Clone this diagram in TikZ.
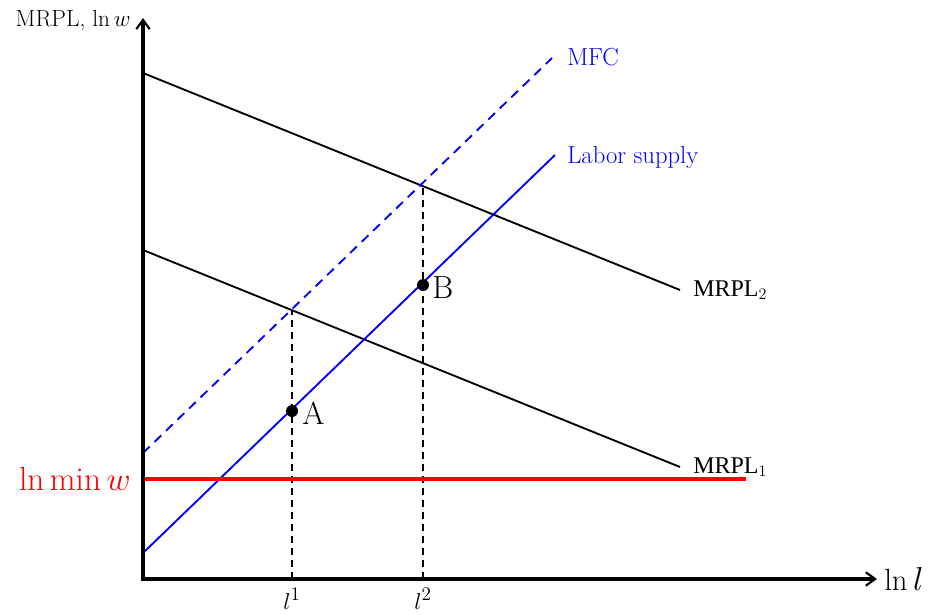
\documentclass[tikz,border=0pt]{standalone}
\usepackage{fontspec}
\newfontfamily\tms{Liberation Serif}
\usetikzlibrary{arrows.meta}
\begin{document}
\begin{tikzpicture}[x=0.75pt,y=-0.75pt,
  axis/.style={line width=2.4pt,-{Straight Barb[length=7pt,width=10pt,line width=1.6pt]}},
  curve/.style={line width=1.4pt},
  guide/.style={line width=1.3pt,dash pattern=on 5pt off 4pt},
  smalllab/.style={font=\fontsize{16.5}{18}\selectfont,inner sep=0pt},
  bluelab/.style={font=\fontsize{18.5}{20}\selectfont,inner sep=0pt,blue,anchor=west},
  biglab/.style={font=\fontsize{24}{26}\selectfont,inner sep=0pt},
  dotnode/.style={circle,fill=black,inner sep=0pt,minimum size=9pt}]
\useasboundingbox (0,0) rectangle (928,614);
% coordinates
\coordinate (O) at (143,579);
\coordinate (ytop) at (143,18);
\coordinate (xend) at (877,579);
\coordinate (m2s) at (143,73);
\coordinate (m2e) at (680,290);
\coordinate (m1s) at (143,250);
\coordinate (m1e) at (680,467);
\coordinate (lss) at (143,553);
\coordinate (lse) at (555,155);
\coordinate (mfs) at (143,453);
\coordinate (mfe) at (552,58);
\coordinate (rs) at (143,479);
\coordinate (re) at (746,479);
\coordinate (l1b) at (292,579);
\coordinate (l1t) at (292,310);
\coordinate (l2b) at (423,579);
\coordinate (l2t) at (423,183);
% guides
\draw[guide] (l1b) -- (l1t);
\draw[guide] (l2b) -- (l2t);
% curves
\draw[curve] (m2s) -- (m2e);
\draw[curve] (m1s) -- (m1e);
\draw[curve,blue] (lss) -- (lse);
\draw[curve,blue,dash pattern=on 7pt off 5pt] (mfs) -- (mfe);
\draw[red,line width=2.4pt] (rs) -- (re);
% axes
\draw[axis] (O) -- (ytop);
\draw[axis] ([xshift=-1.2pt]O) -- (xend);
% points
\node[dotnode] (A) at (292,411) {};
\node[dotnode] (B) at (423,285) {};
% labels
\node[biglab,anchor=west] (Alab) at (302,413) {A};
\node[biglab,anchor=west] (Blab) at (432,288) {B};
\node[smalllab,anchor=east,font=\fontsize{17.5}{19}\selectfont] (ylab) at (131,21) {MRPL, $\ln w$};
\node[biglab,anchor=west,font=\fontsize{23}{25}\selectfont] (xlab) at (884,579) {$\ln l$};
\node[biglab,anchor=east,red,font=\fontsize{25}{27}\selectfont] (minw) at (131,479) {$\ln\min w$};
\node[smalllab,anchor=north,font=\fontsize{19}{21}\selectfont] (l1) at (292,588) {$l^1$};
\node[smalllab,anchor=north,font=\fontsize{19}{21}\selectfont] (l2) at (423,588) {$l^2$};
\node[bluelab] (mfc) at (567,57) {MFC};
\node[bluelab] (ls) at (567,157) {Labor supply};
\node[smalllab,anchor=west,font=\tms\fontsize{18}{20}\selectfont] (mrpl2) at (693,290) {MRPL$_2$};
\node[smalllab,anchor=west,font=\tms\fontsize{18}{20}\selectfont] (mrpl1) at (693,467) {MRPL$_1$};
\end{tikzpicture}
\end{document}
